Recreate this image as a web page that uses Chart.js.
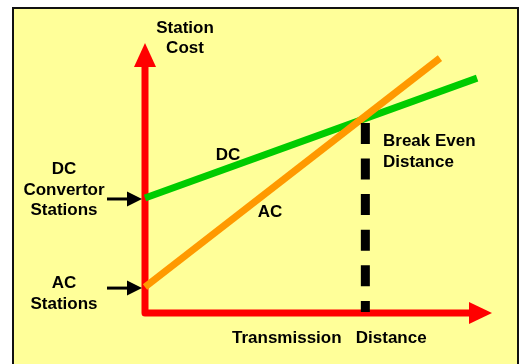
<!DOCTYPE html>
<html>
<head>
<meta charset="utf-8">
<script src="https://cdn.jsdelivr.net/npm/chart.js@4/dist/chart.umd.min.js"></script>
<style>
  html, body { margin: 0; padding: 0; background: #fff; }
  canvas { display: block; }
</style>
</head>
<body>
<canvas id="costChart" width="519" height="364"></canvas>
<script>
// Kustannus vs. siirtomatka (suhteelliset yksiköt 0..10)
const dcDistance = [0, 9.57];
const dcCost = [4.26, 8.70];
const acDistance = [0, 8.50];
const acCost = [0.96, 9.44];
const breakEvenDistance = [6.35, 6.35];
const breakEvenMarker = [7.04, 0.04];

const FONT = "bold 17px 'Liberation Sans', Arial, sans-serif";

function pts(xs, ys) {
    return xs.map((x, i) => ({ x: x, y: ys[i] }));
}

// Tausta, kehys, akselit ja tekstit
const sketchPlugin = {
    id: 'sketch',
    beforeDraw(chart) {
        const ctx = chart.ctx;
        ctx.save();
        ctx.fillStyle = '#ffffff';
        ctx.fillRect(0, 0, chart.width, chart.height);
        ctx.fillStyle = '#ffff99';
        ctx.fillRect(13, 8, 505, 400);
        ctx.strokeStyle = '#111';
        ctx.lineWidth = 2;
        ctx.strokeRect(13, 8, 505, 400);
        ctx.restore();
    },
    beforeDatasetsDraw(chart) {
        const ctx = chart.ctx;
        const xs = chart.scales.x, ys = chart.scales.y;
        const x0 = xs.getPixelForValue(0), y0 = ys.getPixelForValue(0);
        const xTip = xs.getPixelForValue(10), yTip = ys.getPixelForValue(10);
        ctx.save();
        ctx.strokeStyle = '#ff0000';
        ctx.fillStyle = '#ff0000';
        ctx.lineWidth = 7;
        ctx.lineJoin = 'round';
        ctx.beginPath();
        ctx.moveTo(x0, yTip + 22);
        ctx.lineTo(x0, y0);
        ctx.lineTo(xTip - 21, y0);
        ctx.stroke();
        // nuolenkärjet
        ctx.beginPath();
        ctx.moveTo(x0, yTip);
        ctx.lineTo(x0 - 11, yTip + 24);
        ctx.lineTo(x0 + 11, yTip + 24);
        ctx.closePath();
        ctx.fill();
        ctx.beginPath();
        ctx.moveTo(xTip, y0);
        ctx.lineTo(xTip - 23, y0 - 11);
        ctx.lineTo(xTip - 23, y0 + 11);
        ctx.closePath();
        ctx.fill();
        ctx.restore();
    },
    afterDatasetsDraw(chart) {
        const ctx = chart.ctx;
        const xs = chart.scales.x, ys = chart.scales.y;
        const x0 = xs.getPixelForValue(0);
        ctx.save();
        // mustat osoitinnuolet
        ctx.fillStyle = '#000';
        ctx.strokeStyle = '#000';
        ctx.lineWidth = 3;
        [dcCost[0], acCost[0]].forEach((v, i) => {
            const y = ys.getPixelForValue(v) + (i === 0 ? 1 : 1);
            const tip = x0 - 3;
            ctx.beginPath();
            ctx.moveTo(tip - 35, y);
            ctx.lineTo(tip - 12, y);
            ctx.stroke();
            ctx.beginPath();
            ctx.moveTo(tip, y);
            ctx.lineTo(tip - 15, y - 7.5);
            ctx.lineTo(tip - 15, y + 7.5);
            ctx.closePath();
            ctx.fill();
        });

        ctx.font = FONT;
        ctx.textBaseline = 'alphabetic';
        ctx.textAlign = 'center';
        ctx.fillText('Station', 185, 32.5);
        ctx.fillText('Cost', 185, 52.5);
        ctx.fillText('DC', 64, 174);
        ctx.fillText('Convertor', 64, 195);
        ctx.fillText('Stations', 64, 215);
        ctx.fillText('AC', 64, 288);
        ctx.fillText('Stations', 64, 309);
        ctx.fillText('DC', 228, 160);
        ctx.fillText('AC', 270, 217);
        ctx.textAlign = 'left';
        ctx.fillText('Break Even', 383, 146);
        ctx.fillText('Distance', 383, 167);
        ctx.fillText('Transmission   Distance', 232, 343);
        ctx.restore();
    }
};

const ctx = document.getElementById('costChart').getContext('2d');
const costChart = new Chart(ctx, {
    type: 'line',
    data: {
        datasets: [{
            label: 'Break Even',
            data: pts(breakEvenDistance, breakEvenMarker),
            borderColor: '#000000',
            borderWidth: 9,
            borderDash: [21, 14.6],
            borderCapStyle: 'butt',
            order: 0
        }, {
            label: 'AC',
            data: pts(acDistance, acCost),
            borderColor: '#ff9900',
            borderWidth: 7,
            borderCapStyle: 'butt',
            order: 1
        }, {
            label: 'DC',
            data: pts(dcDistance, dcCost),
            borderColor: '#00cc00',
            borderWidth: 7,
            borderCapStyle: 'butt',
            order: 2
        }]
    },
    options: {
        responsive: false,
        animation: false,
        layout: { padding: { left: 145, right: 27, top: 43, bottom: 51 } },
        elements: { point: { radius: 0 }, line: { tension: 0 } },
        datasets: { line: { clip: false } },
        plugins: { legend: { display: false }, tooltip: { enabled: false } },
        scales: {
            x: { type: 'linear', min: 0, max: 10, display: false },
            y: { type: 'linear', min: 0, max: 10, display: false }
        }
    },
    plugins: [sketchPlugin]
});
</script>
</body>
</html>
